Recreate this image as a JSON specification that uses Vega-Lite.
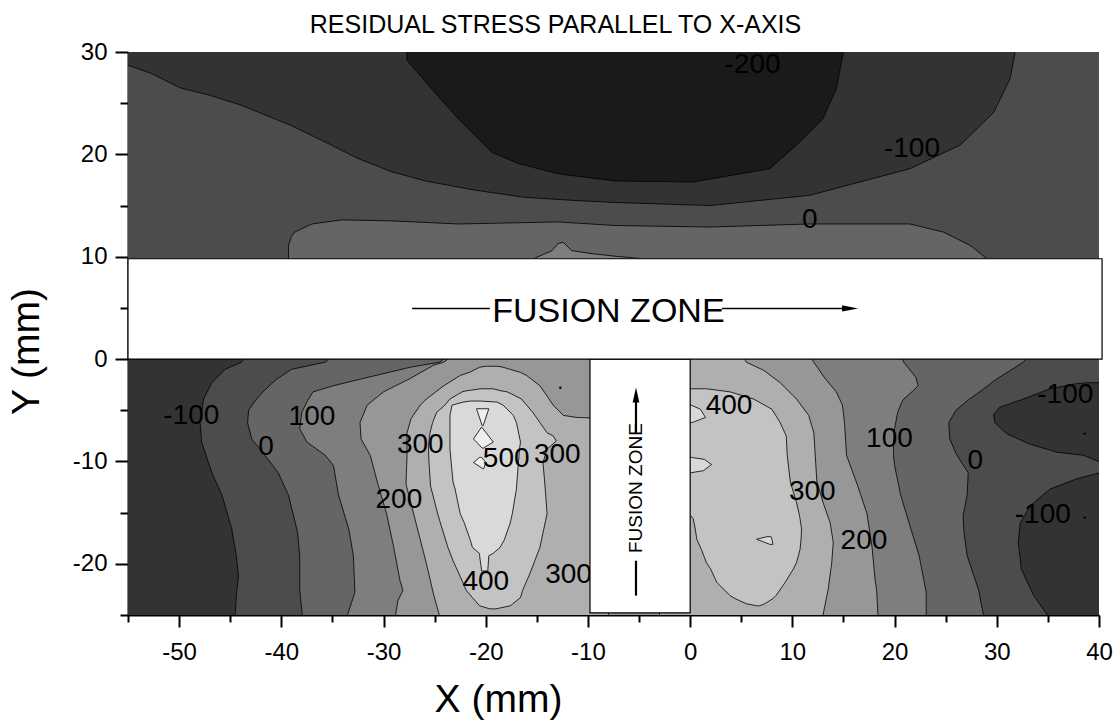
{
  "$schema": "https://vega.github.io/schema/vega-lite/v6.json",
  "width": 971,
  "height": 563,
  "autosize": {"type": "none"},
  "padding": {"left": 128, "top": 52, "right": 18, "bottom": 106},
  "background": "white",
  "title": {"text": "RESIDUAL STRESS PARALLEL TO X-AXIS", "font": "Liberation Sans", "fontSize": 25, "fontWeight": "normal", "color": "black", "anchor": "middle", "frame": "group", "dx": -58, "baseline": "alphabetic", "offset": -18},
  "config": {
    "view": {"stroke": null},
    "axis": {"domainColor": "black", "domainWidth": 2, "tickColor": "black", "tickWidth": 2, "labelFont": "Liberation Sans", "labelFontSize": 24, "labelColor": "black", "titleFont": "Liberation Sans", "titleFontSize": 39, "titleFontWeight": "normal", "titleColor": "black", "grid": false, "labelFlush": false, "labelOverlap": false}
  },
  "datasets": {
    "bg_low": [{"xa": -56, "xb": 41, "ya": -26, "yb": 0.5}],
    "bg_up": [{"xa": -56, "xb": 41, "ya": 9, "yb": 31}],
    "a_m100": [
      {"ya": 0.5, "xa": -43.3, "xb": 41}, {"ya": -0.3, "xa": -43.9, "xb": 41}, {"ya": -1.0, "xa": -45.5, "xb": 41},
      {"ya": -2.3, "xa": -46.8, "xb": 41}, {"ya": -3.9, "xa": -47.6, "xb": 41}, {"ya": -6.2, "xa": -47.95, "xb": 41},
      {"ya": -8.1, "xa": -47.8, "xb": 41}, {"ya": -11.1, "xa": -46.8, "xb": 41}, {"ya": -13.3, "xa": -45.8, "xb": 41},
      {"ya": -16.6, "xa": -44.85, "xb": 41}, {"ya": -19.2, "xa": -44.4, "xb": 41}, {"ya": -21.2, "xa": -44.2, "xb": 41},
      {"ya": -23.1, "xa": -44.4, "xb": 41}, {"ya": -25.5, "xa": -44.55, "xb": 41}
    ],
    "a_0": [
      {"ya": 0.5, "xa": -34.8, "xb": 33.2}, {"ya": -0.3, "xa": -35.7, "xb": 32.6}, {"ya": -1.0, "xa": -39.0, "xb": 31.5},
      {"ya": -2.0, "xa": -40.5, "xb": 29.9}, {"ya": -3.0, "xa": -41.6, "xb": 28.6}, {"ya": -4.0, "xa": -42.5, "xb": 27.2},
      {"ya": -5.0, "xa": -43.2, "xb": 26.0}, {"ya": -6.2, "xa": -43.3, "xb": 25.3}, {"ya": -7.8, "xa": -42.9, "xb": 25.4},
      {"ya": -9.4, "xa": -41.6, "xb": 26.1}, {"ya": -11.1, "xa": -40.3, "xb": 27.2}, {"ya": -13.3, "xa": -39.3, "xb": 27.1},
      {"ya": -15.3, "xa": -38.8, "xb": 26.7}, {"ya": -17.0, "xa": -38.4, "xb": 26.8}, {"ya": -19.2, "xa": -38.2, "xb": 27.1},
      {"ya": -22.5, "xa": -38.2, "xb": 28.2}, {"ya": -25.5, "xa": -37.9, "xb": 28.8}
    ],
    "a_100": [
      {"ya": 0.5, "xa": -23.5, "xb": 20.5}, {"ya": -0.3, "xa": -24.5, "xb": 20.9}, {"ya": -0.8, "xa": -27.4, "xb": 21.3},
      {"ya": -1.8, "xa": -31.6, "xb": 22.1}, {"ya": -2.6, "xa": -34.9, "xb": 22.3}, {"ya": -3.2, "xa": -36.9, "xb": 21.7},
      {"ya": -4.0, "xa": -37.4, "xb": 20.8}, {"ya": -5.2, "xa": -38.0, "xb": 20.3}, {"ya": -6.8, "xa": -38.2, "xb": 20.0},
      {"ya": -8.1, "xa": -37.5, "xb": 19.9}, {"ya": -9.4, "xa": -35.7, "xb": 19.9}, {"ya": -10.4, "xa": -34.9, "xb": 20.0},
      {"ya": -13.3, "xa": -34.4, "xb": 20.6}, {"ya": -16.6, "xa": -33.4, "xb": 21.6}, {"ya": -19.2, "xa": -32.95, "xb": 22.4},
      {"ya": -22.8, "xa": -32.8, "xb": 23.1}, {"ya": -25.5, "xa": -33.7, "xb": 23.1}
    ],
    "a_200": [
      {"ya": 0.5, "xa": -23.0, "xb": 11.6}, {"ya": -0.3, "xa": -24.1, "xb": 12.1}, {"ya": -0.6, "xa": -25.1, "xb": 12.3},
      {"ya": -1.9, "xa": -27.4, "xb": 13.2}, {"ya": -3.2, "xa": -30.0, "xb": 14.3}, {"ya": -4.5, "xa": -31.6, "xb": 14.9},
      {"ya": -6.2, "xa": -32.3, "xb": 15.1}, {"ya": -7.8, "xa": -32.2, "xb": 15.2}, {"ya": -9.4, "xa": -31.3, "xb": 15.3},
      {"ya": -12.4, "xa": -30.5, "xb": 16.4}, {"ya": -15.1, "xa": -29.7, "xb": 17.3}, {"ya": -18.4, "xa": -29.0, "xb": 17.8},
      {"ya": -21.6, "xa": -28.4, "xb": 18.1}, {"ya": -22.6, "xa": -28.1, "xb": 18.25}, {"ya": -23.6, "xa": -28.6, "xb": 18.3},
      {"ya": -25.5, "xa": -28.9, "xb": 18.4}
    ],
    "a_300L": [
      {"ya": -0.7, "xa": -20.0, "xb": -18.8}, {"ya": -0.8, "xa": -20.6, "xb": -18.3}, {"ya": -1.3, "xa": -21.6, "xb": -16.6},
      {"ya": -1.6, "xa": -22.5, "xb": -16.0}, {"ya": -2.6, "xa": -24.1, "xb": -14.7}, {"ya": -3.9, "xa": -25.8, "xb": -13.8},
      {"ya": -4.5, "xa": -26.4, "xb": -13.4}, {"ya": -5.5, "xa": -27.1, "xb": -12.4}, {"ya": -5.7, "xa": -27.2, "xb": -11.1},
      {"ya": -5.8, "xa": -27.3, "xb": -8}, {"ya": -7.2, "xa": -27.7, "xb": -8}, {"ya": -9.4, "xa": -27.7, "xb": -8},
      {"ya": -12.2, "xa": -27.8, "xb": -8}, {"ya": -16.1, "xa": -26.8, "xb": -8}, {"ya": -20.0, "xa": -25.8, "xb": -8},
      {"ya": -23.0, "xa": -25.1, "xb": -8}, {"ya": -25.5, "xa": -24.4, "xb": -8}
    ],
    "a_300R": [
      {"ya": 0.5, "xa": -3, "xb": 5.0}, {"ya": -0.3, "xa": -3, "xb": 5.5}, {"ya": -1.1, "xa": -3, "xb": 7.2},
      {"ya": -2.3, "xa": -3, "xb": 8.8}, {"ya": -3.9, "xa": -3, "xb": 10.4}, {"ya": -5.5, "xa": -3, "xb": 11.6},
      {"ya": -7.2, "xa": -3, "xb": 12.1}, {"ya": -8.8, "xa": -3, "xb": 12.2}, {"ya": -12.0, "xa": -3, "xb": 12.4},
      {"ya": -14.0, "xa": -3, "xb": 13.0}, {"ya": -16.0, "xa": -3, "xb": 13.7}, {"ya": -17.9, "xa": -3, "xb": 14.0},
      {"ya": -19.9, "xa": -3, "xb": 13.85}, {"ya": -22.5, "xa": -3, "xb": 13.5}, {"ya": -25.5, "xa": -3, "xb": 12.9}
    ],
    "a_400L": [
      {"ya": -2.9, "xa": -20.5, "xb": -19.3}, {"ya": -3.1, "xa": -21.9, "xb": -18.5}, {"ya": -3.2, "xa": -22.3, "xb": -17.9},
      {"ya": -3.9, "xa": -23.5, "xb": -16.5}, {"ya": -4.5, "xa": -24.0, "xb": -16.0}, {"ya": -5.2, "xa": -24.8, "xb": -15.4},
      {"ya": -6.2, "xa": -25.2, "xb": -14.7}, {"ya": -7.2, "xa": -25.45, "xb": -14.0}, {"ya": -7.5, "xa": -25.5, "xb": -13.4},
      {"ya": -8.0, "xa": -25.55, "xb": -13.1}, {"ya": -8.8, "xa": -25.6, "xb": -14.0}, {"ya": -10.1, "xa": -25.55, "xb": -14.4},
      {"ya": -12.4, "xa": -25.4, "xb": -14.2}, {"ya": -15.1, "xa": -24.7, "xb": -14.0}, {"ya": -15.8, "xa": -24.5, "xb": -14.15},
      {"ya": -18.4, "xa": -23.7, "xb": -14.7}, {"ya": -19.7, "xa": -23.2, "xb": -15.2}, {"ya": -21.0, "xa": -22.6, "xb": -15.7},
      {"ya": -22.6, "xa": -21.9, "xb": -16.4}, {"ya": -23.3, "xa": -21.3, "xb": -16.6}, {"ya": -24.1, "xa": -20.6, "xb": -17.6},
      {"ya": -24.4, "xa": -19.6, "xb": -19.0}
    ],
    "a_400R": [
      {"ya": -2.9, "xa": -3, "xb": 1.6}, {"ya": -3.2, "xa": -3, "xb": 3.9}, {"ya": -3.9, "xa": -3, "xb": 6.2},
      {"ya": -4.9, "xa": -3, "xb": 8.0}, {"ya": -6.2, "xa": -3, "xb": 8.8}, {"ya": -7.5, "xa": -3, "xb": 9.4},
      {"ya": -9.4, "xa": -3, "xb": 9.5}, {"ya": -12.0, "xa": -3, "xb": 9.8}, {"ya": -14.0, "xa": -3, "xb": 10.4},
      {"ya": -15.3, "xa": -3, "xb": 10.7}, {"ya": -15.35, "xa": 0.1, "xb": 10.7}, {"ya": -15.6, "xa": 0.3, "xb": 10.75},
      {"ya": -16.6, "xa": 0.5, "xb": 10.9}, {"ya": -17.6, "xa": 0.65, "xb": 10.85}, {"ya": -18.6, "xa": 1.1, "xb": 10.75},
      {"ya": -19.9, "xa": 1.6, "xb": 10.4}, {"ya": -20.5, "xa": 2.0, "xb": 10.1}, {"ya": -21.8, "xa": 2.6, "xb": 9.3},
      {"ya": -22.1, "xa": 2.9, "xb": 9.1}, {"ya": -23.1, "xa": 3.9, "xb": 8.4}, {"ya": -23.4, "xa": 4.4, "xb": 8.1},
      {"ya": -23.9, "xa": 5.5, "xb": 7.3}, {"ya": -24.1, "xa": 6.5, "xb": 6.8}
    ],
    "a_500L": [
      {"ya": -4.1, "xa": -21.5, "xb": -20.5}, {"ya": -4.2, "xa": -22.2, "xb": -18.9}, {"ya": -4.5, "xa": -23.3, "xb": -18.3},
      {"ya": -5.5, "xa": -23.5, "xb": -17.3}, {"ya": -6.2, "xa": -23.5, "xb": -17.0}, {"ya": -8.1, "xa": -23.5, "xb": -16.6},
      {"ya": -8.8, "xa": -23.5, "xb": -16.7}, {"ya": -12.0, "xa": -23.2, "xb": -16.95}, {"ya": -12.7, "xa": -23.0, "xb": -17.0},
      {"ya": -15.1, "xa": -22.5, "xb": -17.4}, {"ya": -16.0, "xa": -22.1, "xb": -17.6}, {"ya": -17.7, "xa": -21.5, "xb": -18.2},
      {"ya": -18.4, "xa": -21.3, "xb": -18.6}, {"ya": -19.0, "xa": -20.6, "xb": -19.3}, {"ya": -19.2, "xa": -20.6, "xb": -19.7},
      {"ya": -20.7, "xa": -20.4, "xb": -19.8}
    ],
    "spots_hi": [
      {"id": 1, "ya": -4.85, "xa": -20.9, "xb": -19.7}, {"id": 1, "ya": -6.5, "xa": -20.35, "xb": -20.25},
      {"id": 2, "ya": -6.7, "xa": -20.45, "xb": -20.35}, {"id": 2, "ya": -7.8, "xa": -21.2, "xb": -19.5}, {"id": 2, "ya": -8.1, "xa": -20.9, "xb": -19.25}, {"id": 2, "ya": -8.7, "xa": -20.35, "xb": -20.25},
      {"id": 3, "ya": -9.6, "xa": -20.6, "xb": -20.4}, {"id": 3, "ya": -10.1, "xa": -21.2, "xb": -20.0}, {"id": 3, "ya": -10.7, "xa": -20.3, "xb": -20.2}
    ],
    "spots_r": [
      {"id": 1, "ya": -4.5, "xa": -1, "xb": 0.1}, {"id": 1, "ya": -4.9, "xa": -1, "xb": 1.0}, {"id": 1, "ya": -5.7, "xa": -1, "xb": 1.5}, {"id": 1, "ya": -6.2, "xa": -1, "xb": 0.2},
      {"id": 2, "ya": -9.6, "xa": -1, "xb": 0.1}, {"id": 2, "ya": -9.8, "xa": -1, "xb": 1.4}, {"id": 2, "ya": -10.3, "xa": -1, "xb": 2.1}, {"id": 2, "ya": -10.9, "xa": -1, "xb": 1.3}, {"id": 2, "ya": -11.1, "xa": -1, "xb": 0.1},
      {"id": 3, "ya": -17.35, "xa": 7.5, "xb": 7.9}, {"id": 3, "ya": -17.6, "xa": 6.5, "xb": 8.0}, {"id": 3, "ya": -18.1, "xa": 7.8, "xb": 8.1}
    ],
    "dark": [
      {"id": 1, "ya": -2.3, "xa": 39.0, "xb": 41}, {"id": 1, "ya": -2.4, "xa": 37.8, "xb": 41}, {"id": 1, "ya": -2.9, "xa": 35.2, "xb": 41},
      {"id": 1, "ya": -3.9, "xa": 32.6, "xb": 41}, {"id": 1, "ya": -4.7, "xa": 30.3, "xb": 41}, {"id": 1, "ya": -5.4, "xa": 29.7, "xb": 41},
      {"id": 1, "ya": -6.2, "xa": 29.8, "xb": 41}, {"id": 1, "ya": -7.3, "xa": 31.0, "xb": 41}, {"id": 1, "ya": -8.3, "xa": 33.2, "xb": 41},
      {"id": 1, "ya": -9.1, "xa": 35.9, "xb": 41}, {"id": 1, "ya": -9.4, "xa": 38.5, "xb": 41}, {"id": 1, "ya": -10.1, "xa": 40.2, "xb": 41},
      {"id": 2, "ya": -11.1, "xa": 40.1, "xb": 41}, {"id": 2, "ya": -11.7, "xa": 37.8, "xb": 41}, {"id": 2, "ya": -12.7, "xa": 35.2, "xb": 41},
      {"id": 2, "ya": -14.3, "xa": 33.3, "xb": 41}, {"id": 2, "ya": -16.0, "xa": 32.3, "xb": 41}, {"id": 2, "ya": -17.9, "xa": 32.1, "xb": 41},
      {"id": 2, "ya": -20.5, "xa": 32.4, "xb": 41}, {"id": 2, "ya": -23.1, "xa": 33.6, "xb": 41}, {"id": 2, "ya": -25.5, "xa": 35.3, "xb": 41}
    ],
    "u_m200": [
      {"xa": -56, "ya": 28.8, "yb": 31}, {"xa": -55, "ya": 28.7, "yb": 31}, {"xa": -52.7, "ya": 27.9, "yb": 31},
      {"xa": -49.9, "ya": 26.5, "yb": 31}, {"xa": -47.1, "ya": 25.8, "yb": 31}, {"xa": -43.9, "ya": 24.8, "yb": 31},
      {"xa": -39.0, "ya": 22.8, "yb": 31}, {"xa": -35.7, "ya": 21.2, "yb": 31}, {"xa": -32.5, "ya": 19.6, "yb": 31},
      {"xa": -29.2, "ya": 18.3, "yb": 31}, {"xa": -25.9, "ya": 17.4, "yb": 31}, {"xa": -21.0, "ya": 16.5, "yb": 31},
      {"xa": -16.2, "ya": 15.8, "yb": 31}, {"xa": -11.3, "ya": 15.5, "yb": 31}, {"xa": -7.35, "ya": 15.3, "yb": 31},
      {"xa": 1.95, "ya": 15.0, "yb": 31}, {"xa": 11.7, "ya": 16.0, "yb": 31}, {"xa": 21.5, "ya": 18.6, "yb": 31},
      {"xa": 26.4, "ya": 20.9, "yb": 31}, {"xa": 29.7, "ya": 24.1, "yb": 31}, {"xa": 31.3, "ya": 27.4, "yb": 31},
      {"xa": 31.8, "ya": 30.0, "yb": 31}, {"xa": 31.85, "ya": 31, "yb": 31}
    ],
    "u_m300": [
      {"xa": -27.75, "ya": 31, "yb": 31}, {"xa": -27.7, "ya": 29.2, "yb": 31}, {"xa": -25.3, "ya": 26.4, "yb": 31},
      {"xa": -22.7, "ya": 23.5, "yb": 31}, {"xa": -19.4, "ya": 20.2, "yb": 31}, {"xa": -16.8, "ya": 19.1, "yb": 31},
      {"xa": -12.9, "ya": 18.1, "yb": 31}, {"xa": -7.35, "ya": 17.4, "yb": 31}, {"xa": 0.3, "ya": 17.3, "yb": 31},
      {"xa": 7.8, "ya": 18.6, "yb": 31}, {"xa": 10.4, "ya": 20.9, "yb": 31}, {"xa": 13.0, "ya": 23.5, "yb": 31},
      {"xa": 14.3, "ya": 26.4, "yb": 31}, {"xa": 15.0, "ya": 30.0, "yb": 31}, {"xa": 15.05, "ya": 31, "yb": 31}
    ],
    "u_0": [
      {"xa": -39.3, "ya": 9, "yb": 11.1}, {"xa": -39.0, "ya": 9, "yb": 12.0}, {"xa": -38.7, "ya": 9, "yb": 12.4},
      {"xa": -37.0, "ya": 9, "yb": 13.2}, {"xa": -34.1, "ya": 9, "yb": 13.6}, {"xa": -29.2, "ya": 9, "yb": 13.5},
      {"xa": -22.7, "ya": 9, "yb": 13.2}, {"xa": -12.9, "ya": 9, "yb": 13.4}, {"xa": -7.35, "ya": 9, "yb": 13.05},
      {"xa": 1.95, "ya": 9, "yb": 12.9}, {"xa": 11.7, "ya": 9, "yb": 13.2}, {"xa": 21.5, "ya": 9, "yb": 13.2},
      {"xa": 24.8, "ya": 9, "yb": 12.4}, {"xa": 27.4, "ya": 9, "yb": 11.1}, {"xa": 29.3, "ya": 9, "yb": 9.6}
    ],
    "u_100": [
      {"xa": -16.5, "ya": 9, "yb": 9.3}, {"xa": -13.5, "ya": 9, "yb": 10.6}, {"xa": -12.9, "ya": 9, "yb": 11.3},
      {"xa": -12.4, "ya": 9, "yb": 11.4}, {"xa": -11.6, "ya": 9, "yb": 10.6}, {"xa": -9.6, "ya": 9, "yb": 10.3},
      {"xa": -7.35, "ya": 9, "yb": 10.05}, {"xa": -4.6, "ya": 9, "yb": 9.8}, {"xa": -3.5, "ya": 9, "yb": 9.5}
    ],
    "dots": [{"xa": -12.7, "ya": -2.8}, {"xa": 38.6, "ya": -7.3}, {"xa": 38.6, "ya": -15.5}],
    "labels": [
      {"xa": 6.1, "ya": 28.7, "label": "-200"}, {"xa": 21.7, "ya": 20.5, "label": "-100"}, {"xa": 11.7, "ya": 13.6, "label": "0"},
      {"xa": -48.8, "ya": -5.6, "label": "-100"}, {"xa": -41.5, "ya": -8.6, "label": "0"}, {"xa": -37.0, "ya": -5.7, "label": "100"},
      {"xa": -26.4, "ya": -8.4, "label": "300"}, {"xa": -18.0, "ya": -9.8, "label": "500"}, {"xa": -13.0, "ya": -9.4, "label": "300"},
      {"xa": -28.5, "ya": -13.8, "label": "200"}, {"xa": -20.0, "ya": -21.8, "label": "400"}, {"xa": -11.9, "ya": -21.1, "label": "300"},
      {"xa": 3.8, "ya": -4.6, "label": "400"}, {"xa": 19.5, "ya": -7.8, "label": "100"}, {"xa": 11.95, "ya": -13.0, "label": "300"},
      {"xa": 27.9, "ya": -10.0, "label": "0"}, {"xa": 17.0, "ya": -17.8, "label": "200"}, {"xa": 36.7, "ya": -3.5, "label": "-100"},
      {"xa": 34.5, "ya": -15.2, "label": "-100"}
    ],
    "fz": [{"xa": -9.8, "xb": 0, "ya": -24.8, "yb": 0}, {"xa": -55, "xb": 40.3, "ya": 0, "yb": 9.8}],
    "fz_h": [{"xa": -8.0, "ya": 4.6, "label": "FUSION ZONE"}],
    "fz_v": [{"xa": -5.3, "ya": -12.6, "label": "FUSION ZONE"}],
    "arrow_h": [{"xa": -27.2, "xb": -19.6, "ya": 4.95}, {"xa": 3.1, "xb": 15.2, "ya": 4.95}],
    "arrow_v": [{"xa": -5.3, "ya": -23.1, "yb": -19.7}, {"xa": -5.3, "ya": -7.2, "yb": -4.0}],
    "head_r": [{"xa": 15.65, "ya": 4.95}],
    "head_u": [{"xa": -5.3, "ya": -3.5}]
  },
  "layer": [
    {
      "data": {"name": "bg_low"},
      "mark": {"type": "rect", "fill": "#333333", "clip": true},
      "encoding": {
        "x": {"field": "xa", "type": "quantitative", "scale": {"domain": [-55, 40], "nice": false, "zero": false},
          "axis": {"title": "X (mm)", "values": [-55, -50, -45, -40, -35, -30, -25, -20, -15, -10, -5, 0, 5, 10, 15, 20, 25, 30, 35, 40],
            "labelExpr": "datum.value % 10 === 0 ? ('' + datum.value) : ''",
            "tickSize": {"condition": {"test": "datum.value % 10 === 0", "value": 12}, "value": 7},
            "labelPadding": 13, "titleX": 370, "titleY": 96, "titleBaseline": "alphabetic", "titleAlign": "center"}},
        "x2": {"field": "xb"},
        "y": {"field": "ya", "type": "quantitative", "scale": {"domain": [-25, 30], "nice": false, "zero": false},
          "axis": {"title": "Y (mm)", "values": [-25, -20, -15, -10, -5, 0, 5, 10, 15, 20, 25, 30],
            "labelExpr": "datum.value % 10 === 0 ? ('' + datum.value) : ''",
            "tickSize": {"condition": {"test": "datum.value % 10 === 0", "value": 13}, "value": 8},
            "labelPadding": 8, "titleX": -90, "titleY": 299, "titleAngle": -90, "titleBaseline": "alphabetic", "titleAlign": "center"}},
        "y2": {"field": "yb"}
      }
    },
    {
      "data": {"name": "bg_up"},
      "mark": {"type": "rect", "fill": "#4c4c4c", "clip": true},
      "encoding": {"x": {"field": "xa", "type": "quantitative"}, "x2": {"field": "xb"}, "y": {"field": "ya", "type": "quantitative"}, "y2": {"field": "yb"}}
    },
    {
      "data": {"name": "a_m100"},
      "mark": {"type": "area", "orient": "horizontal", "fill": "#4c4c4c", "stroke": "black", "strokeWidth": 0.8, "clip": true},
      "encoding": {"y": {"field": "ya", "type": "quantitative"}, "x": {"field": "xa", "type": "quantitative"}, "x2": {"field": "xb"}}
    },
    {
      "data": {"name": "a_0"},
      "mark": {"type": "area", "orient": "horizontal", "fill": "#656565", "stroke": "black", "strokeWidth": 0.8, "clip": true},
      "encoding": {"y": {"field": "ya", "type": "quantitative"}, "x": {"field": "xa", "type": "quantitative"}, "x2": {"field": "xb"}}
    },
    {
      "data": {"name": "a_100"},
      "mark": {"type": "area", "orient": "horizontal", "fill": "#7e7e7e", "stroke": "black", "strokeWidth": 0.8, "clip": true},
      "encoding": {"y": {"field": "ya", "type": "quantitative"}, "x": {"field": "xa", "type": "quantitative"}, "x2": {"field": "xb"}}
    },
    {
      "data": {"name": "a_200"},
      "mark": {"type": "area", "orient": "horizontal", "fill": "#979797", "stroke": "black", "strokeWidth": 0.8, "clip": true},
      "encoding": {"y": {"field": "ya", "type": "quantitative"}, "x": {"field": "xa", "type": "quantitative"}, "x2": {"field": "xb"}}
    },
    {
      "data": {"name": "a_300L"},
      "mark": {"type": "area", "orient": "horizontal", "fill": "#afafaf", "stroke": "black", "strokeWidth": 0.8, "clip": true},
      "encoding": {"y": {"field": "ya", "type": "quantitative"}, "x": {"field": "xa", "type": "quantitative"}, "x2": {"field": "xb"}}
    },
    {
      "data": {"name": "a_300R"},
      "mark": {"type": "area", "orient": "horizontal", "fill": "#afafaf", "stroke": "black", "strokeWidth": 0.8, "clip": true},
      "encoding": {"y": {"field": "ya", "type": "quantitative"}, "x": {"field": "xa", "type": "quantitative"}, "x2": {"field": "xb"}}
    },
    {
      "data": {"name": "a_400L"},
      "mark": {"type": "area", "orient": "horizontal", "fill": "#c3c3c3", "stroke": "black", "strokeWidth": 0.8, "clip": true},
      "encoding": {"y": {"field": "ya", "type": "quantitative"}, "x": {"field": "xa", "type": "quantitative"}, "x2": {"field": "xb"}}
    },
    {
      "data": {"name": "a_400R"},
      "mark": {"type": "area", "orient": "horizontal", "fill": "#c3c3c3", "stroke": "black", "strokeWidth": 0.8, "clip": true},
      "encoding": {"y": {"field": "ya", "type": "quantitative"}, "x": {"field": "xa", "type": "quantitative"}, "x2": {"field": "xb"}}
    },
    {
      "data": {"name": "a_500L"},
      "mark": {"type": "area", "orient": "horizontal", "fill": "#d9d9d9", "stroke": "black", "strokeWidth": 0.8, "clip": true},
      "encoding": {"y": {"field": "ya", "type": "quantitative"}, "x": {"field": "xa", "type": "quantitative"}, "x2": {"field": "xb"}}
    },
    {
      "data": {"name": "spots_hi"},
      "mark": {"type": "area", "orient": "horizontal", "fill": "#eeeeee", "stroke": "black", "strokeWidth": 0.8, "clip": true},
      "encoding": {"y": {"field": "ya", "type": "quantitative"}, "x": {"field": "xa", "type": "quantitative"}, "x2": {"field": "xb"}, "detail": {"field": "id", "type": "nominal"}}
    },
    {
      "data": {"name": "spots_r"},
      "mark": {"type": "area", "orient": "horizontal", "fill": "#d9d9d9", "stroke": "black", "strokeWidth": 0.8, "clip": true},
      "encoding": {"y": {"field": "ya", "type": "quantitative"}, "x": {"field": "xa", "type": "quantitative"}, "x2": {"field": "xb"}, "detail": {"field": "id", "type": "nominal"}}
    },
    {
      "data": {"name": "dark"},
      "mark": {"type": "area", "orient": "horizontal", "fill": "#333333", "stroke": "black", "strokeWidth": 0.8, "clip": true},
      "encoding": {"y": {"field": "ya", "type": "quantitative"}, "x": {"field": "xa", "type": "quantitative"}, "x2": {"field": "xb"}, "detail": {"field": "id", "type": "nominal"}}
    },
    {
      "data": {"name": "u_m200"},
      "mark": {"type": "area", "orient": "vertical", "fill": "#333333", "stroke": "black", "strokeWidth": 0.8, "clip": true},
      "encoding": {"x": {"field": "xa", "type": "quantitative"}, "y": {"field": "ya", "type": "quantitative"}, "y2": {"field": "yb"}}
    },
    {
      "data": {"name": "u_m300"},
      "mark": {"type": "area", "orient": "vertical", "fill": "#1a1a1a", "stroke": "black", "strokeWidth": 0.8, "clip": true},
      "encoding": {"x": {"field": "xa", "type": "quantitative"}, "y": {"field": "ya", "type": "quantitative"}, "y2": {"field": "yb"}}
    },
    {
      "data": {"name": "u_0"},
      "mark": {"type": "area", "orient": "vertical", "fill": "#656565", "stroke": "black", "strokeWidth": 0.8, "clip": true},
      "encoding": {"x": {"field": "xa", "type": "quantitative"}, "y": {"field": "ya", "type": "quantitative"}, "y2": {"field": "yb"}}
    },
    {
      "data": {"name": "u_100"},
      "mark": {"type": "area", "orient": "vertical", "fill": "#7e7e7e", "stroke": "black", "strokeWidth": 0.8, "clip": true},
      "encoding": {"x": {"field": "xa", "type": "quantitative"}, "y": {"field": "ya", "type": "quantitative"}, "y2": {"field": "yb"}}
    },
    {
      "data": {"name": "dots"},
      "mark": {"type": "point", "filled": true, "color": "black", "size": 6, "opacity": 1},
      "encoding": {"x": {"field": "xa", "type": "quantitative"}, "y": {"field": "ya", "type": "quantitative"}}
    },
    {
      "data": {"name": "labels"},
      "mark": {"type": "text", "font": "Liberation Sans", "fontSize": 28, "color": "black", "align": "center", "baseline": "middle"},
      "encoding": {"x": {"field": "xa", "type": "quantitative"}, "y": {"field": "ya", "type": "quantitative"}, "text": {"field": "label"}}
    },
    {
      "data": {"name": "fz"},
      "mark": {"type": "rect", "fill": "white", "stroke": "black", "strokeWidth": 1.2},
      "encoding": {"x": {"field": "xa", "type": "quantitative"}, "x2": {"field": "xb"}, "y": {"field": "ya", "type": "quantitative"}, "y2": {"field": "yb"}}
    },
    {
      "data": {"name": "fz_h"},
      "mark": {"type": "text", "font": "Liberation Sans", "fontSize": 34, "color": "black", "align": "center", "baseline": "middle"},
      "encoding": {"x": {"field": "xa", "type": "quantitative"}, "y": {"field": "ya", "type": "quantitative"}, "text": {"field": "label"}}
    },
    {
      "data": {"name": "fz_v"},
      "mark": {"type": "text", "font": "Liberation Sans", "fontSize": 19, "color": "black", "align": "center", "baseline": "middle", "angle": 270},
      "encoding": {"x": {"field": "xa", "type": "quantitative"}, "y": {"field": "ya", "type": "quantitative"}, "text": {"field": "label"}}
    },
    {
      "data": {"name": "arrow_h"},
      "mark": {"type": "rule", "color": "black", "strokeWidth": 1.5},
      "encoding": {"x": {"field": "xa", "type": "quantitative"}, "x2": {"field": "xb"}, "y": {"field": "ya", "type": "quantitative"}}
    },
    {
      "data": {"name": "arrow_v"},
      "mark": {"type": "rule", "color": "black", "strokeWidth": 2.2},
      "encoding": {"x": {"field": "xa", "type": "quantitative"}, "y": {"field": "ya", "type": "quantitative"}, "y2": {"field": "yb"}}
    },
    {
      "data": {"name": "head_r"},
      "mark": {"type": "point", "shape": "M-1,-0.4L1,0L-1,0.4Z", "filled": true, "color": "black", "size": 256, "opacity": 1},
      "encoding": {"x": {"field": "xa", "type": "quantitative"}, "y": {"field": "ya", "type": "quantitative"}}
    },
    {
      "data": {"name": "head_u"},
      "mark": {"type": "point", "shape": "M-0.45,1L0,-1L0.45,1Z", "filled": true, "color": "black", "size": 225, "opacity": 1},
      "encoding": {"x": {"field": "xa", "type": "quantitative"}, "y": {"field": "ya", "type": "quantitative"}}
    }
  ]
}
